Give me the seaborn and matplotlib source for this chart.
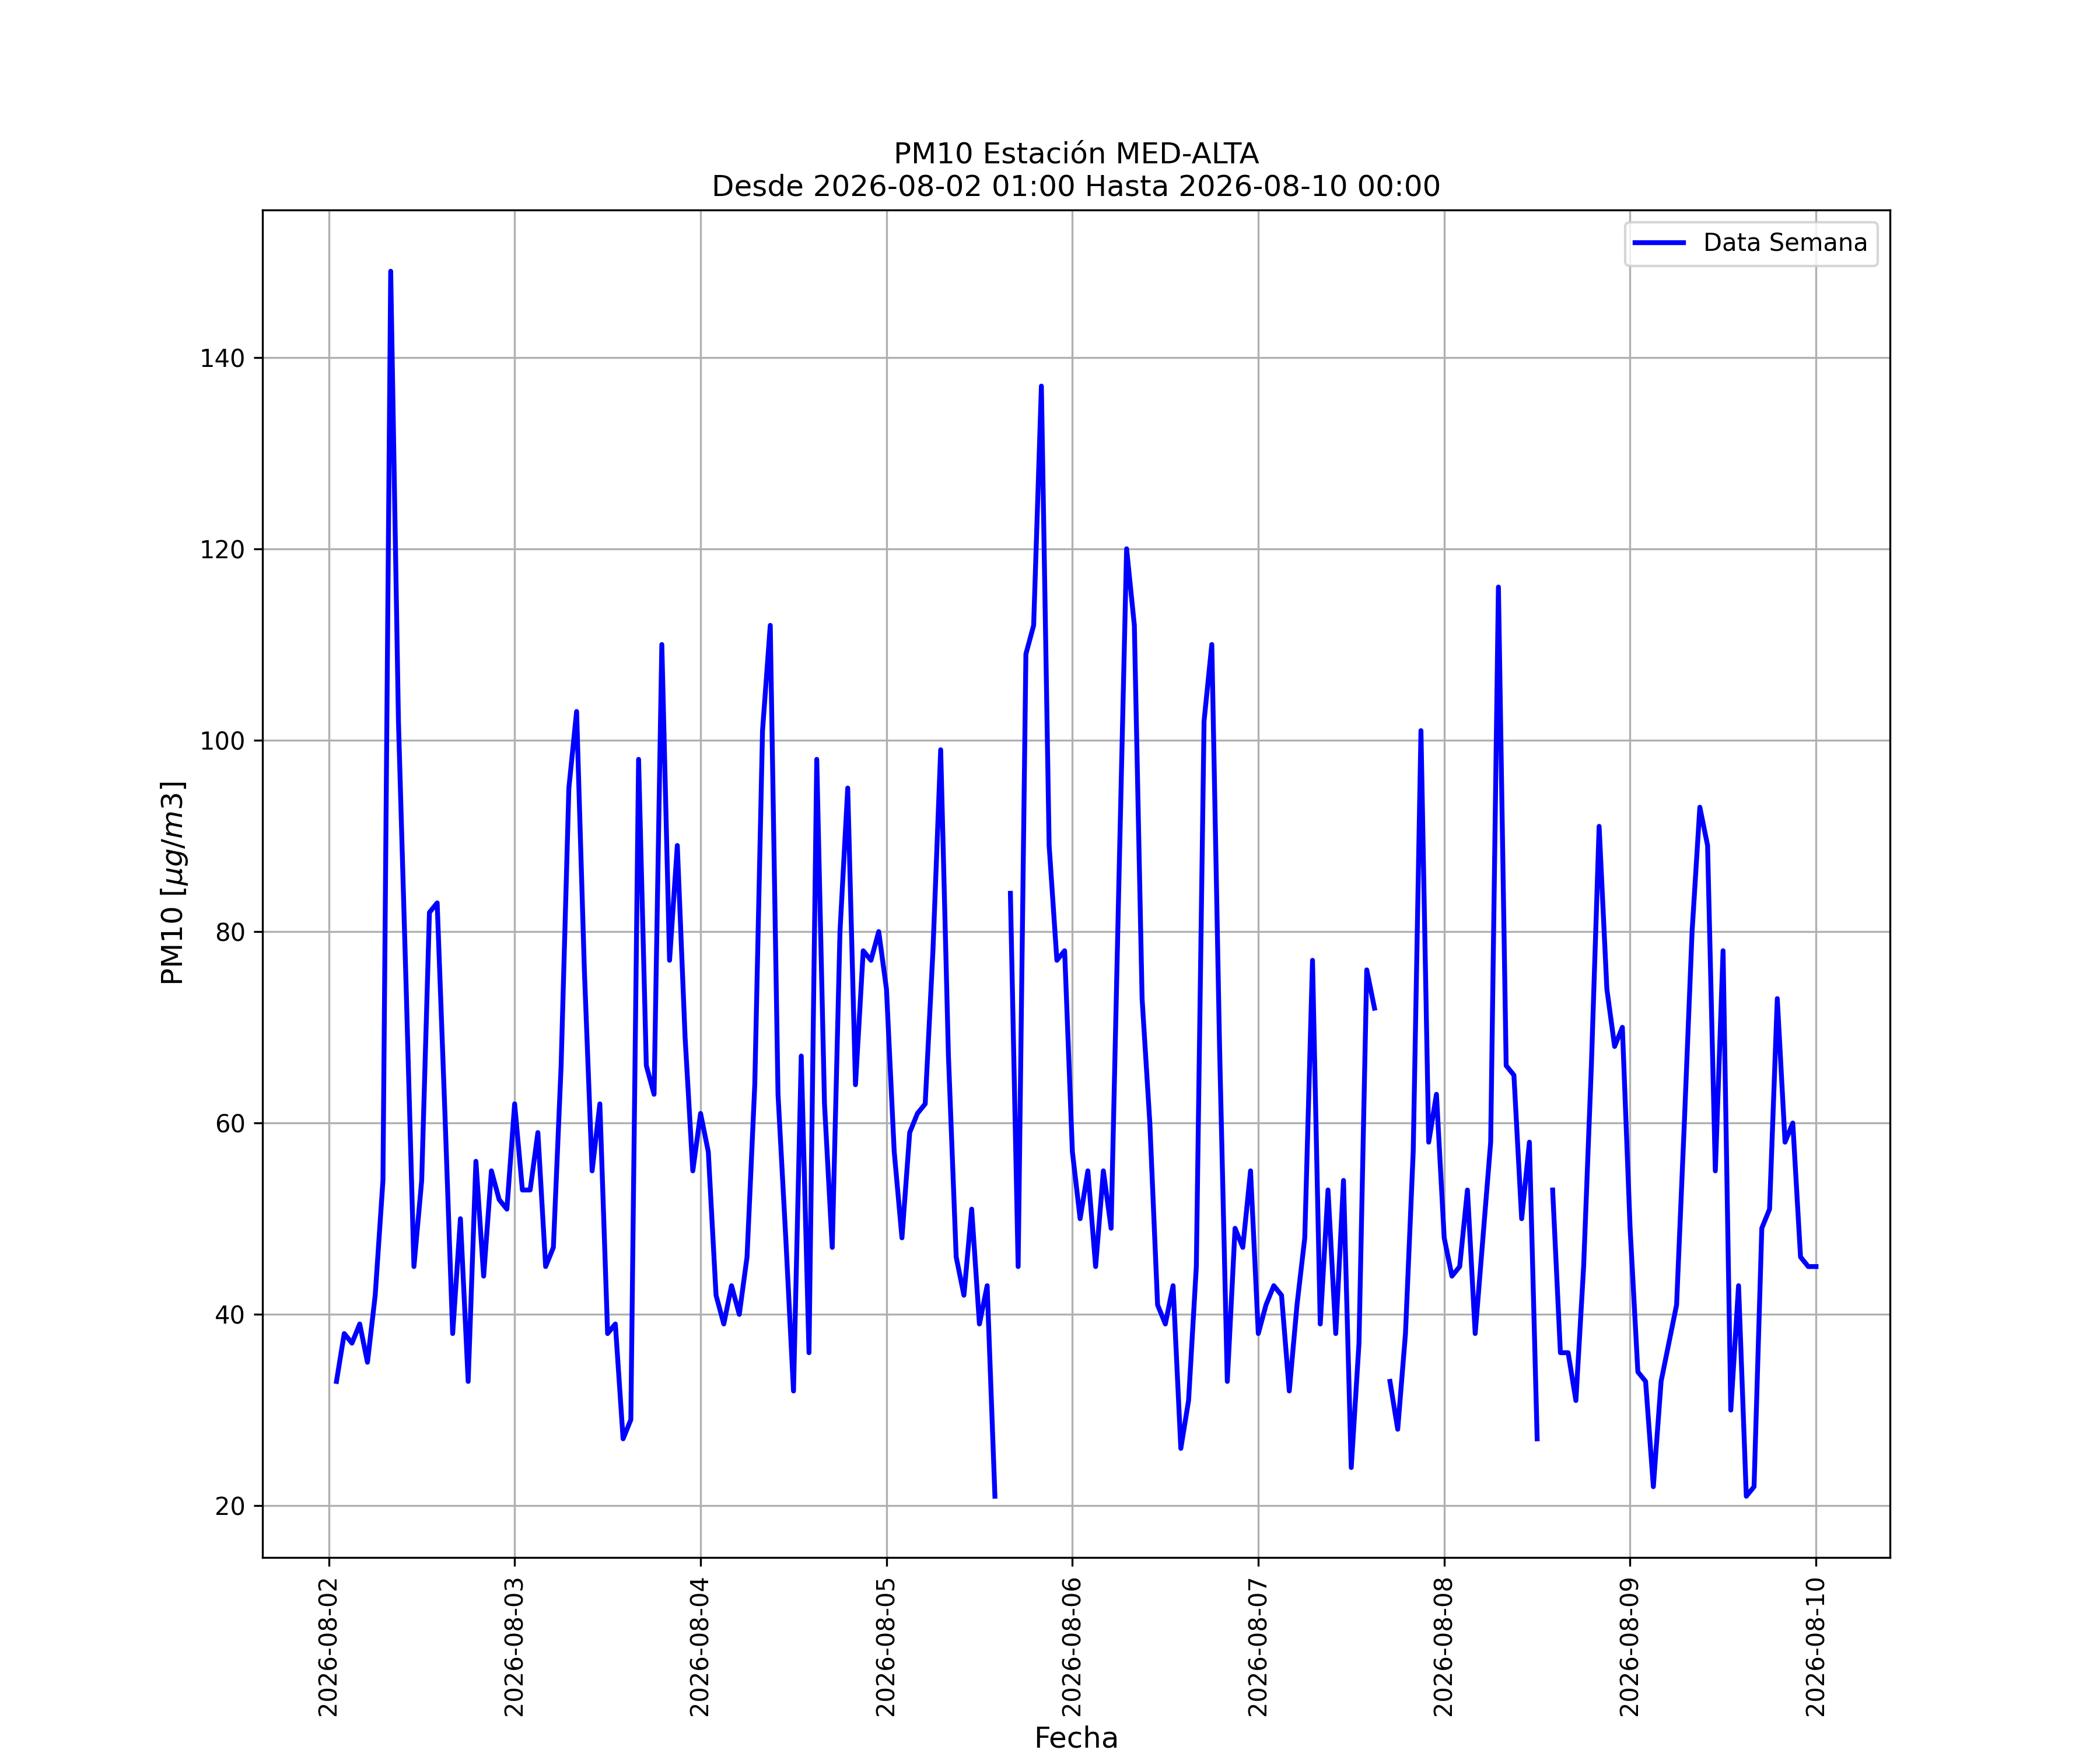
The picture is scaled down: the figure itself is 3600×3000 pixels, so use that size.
import numpy as np
import pandas as pd
import seaborn as sns
import matplotlib.pyplot as plt
import matplotlib.dates as mdates

# --- datos horarios PM10 (2026-08-02 01:00 -> 2026-08-10 00:00) ---
nan = np.nan
dia_02 = [33, 38, 37, 39, 35, 42, 54, 149, 102, 74, 45, 54,
          82, 83, 61, 38, 50, 33, 56, 44, 55, 52, 51, 62]
dia_03 = [53, 53, 59, 45, 47, 66, 95, 103, 76, 55, 62, 38,
          39, 27, 29, 98, 66, 63, 110, 77, 89, 69, 55, 61]
dia_04 = [57, 42, 39, 43, 40, 46, 64, 101, 112, 63, 48, 32,
          67, 36, 98, 62, 47, 80, 95, 64, 78, 77, 80, 74]
dia_05 = [57, 48, 59, 61, 62, 78, 99, 67, 46, 42, 51, 39,
          43, 21, nan, 84, 45, 109, 112, 137, 89, 77, 78, 57]
dia_06 = [50, 55, 45, 55, 49, 85, 120, 112, 73, 60, 41, 39,
          43, 26, 31, 45, 102, 110, 68, 33, 49, 47, 55, 38]
dia_07 = [41, 43, 42, 32, 41, 48, 77, 39, 53, 38, 54, 24,
          37, 76, 72, nan, 33, 28, 38, 57, 101, 58, 63, 48]
dia_08 = [44, 45, 53, 38, 48, 58, 116, 66, 65, 50, 58, 27,
          nan, 53, 36, 36, 31, 45, 66, 91, 74, 68, 70, 49]
dia_09 = [34, 33, 22, 33, 37, 41, 60, 80, 93, 89, 55, 78,
          30, 43, 21, 22, 49, 51, 73, 58, 60, 46, 45, 45]

pm10 = dia_02 + dia_03 + dia_04 + dia_05 + dia_06 + dia_07 + dia_08 + dia_09
fechas = pd.date_range("2026-08-02 01:00", periods=len(pm10), freq="h")

df = pd.DataFrame({"Fecha": fechas, "PM10": pm10})
# tramos continuos (la linea se corta donde falta el dato)
df["tramo"] = df["PM10"].isna().cumsum()
df = df.dropna()

fig, ax = plt.subplots(figsize=(12, 10), dpi=300)

for i, (_, tramo) in enumerate(df.groupby("tramo")):
    sns.lineplot(data=tramo, x="Fecha", y="PM10", ax=ax, color="blue",
                 linewidth=2, label="Data Semana" if i == 0 else None,
                 legend=False)

ax.xaxis.set_major_locator(mdates.DayLocator())
ax.xaxis.set_major_formatter(mdates.DateFormatter("%Y-%m-%d"))
plt.setp(ax.get_xticklabels(), rotation=90)

ax.grid(True)
ax.set_title("PM10 Estación MED-ALTA\nDesde 2026-08-02 01:00 Hasta 2026-08-10 00:00",
             fontsize=12)
ax.set_xlabel("Fecha", fontsize=12)
ax.set_ylabel(r"PM10 [$\mu g/m3$]", fontsize=12)
ax.legend(loc="upper right")

plt.savefig("out.png", dpi=300)
